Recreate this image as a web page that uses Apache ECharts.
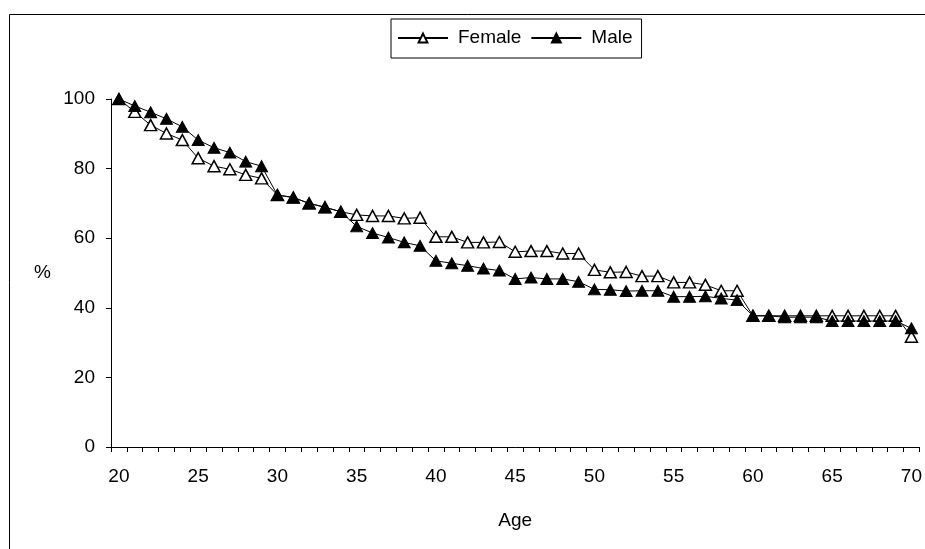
<!DOCTYPE html>
<html>
<head>
<meta charset="utf-8">
<script src="https://cdn.jsdelivr.net/npm/echarts@6/dist/echarts.min.js"></script>
<style>
html,body{margin:0;padding:0;background:#fff;}
#chart{width:925px;height:549px;}
</style>
</head>
<body>
<div id="chart"></div>
<script>
const ages = ['20','21','22','23','24','25','26','27','28','29','30','31','32','33','34','35','36','37','38','39','40','41','42','43','44','45','46','47','48','49','50','51','52','53','54','55','56','57','58','59','60','61','62','63','64','65','66','67','68','69','70'];
const female = [100, 96.3, 92.5, 90.1, 88.2, 83.0, 80.7, 79.8, 78.2, 77.2,
  72.4, 71.7, 70.0, 68.9, 67.6, 66.7, 66.4, 66.4, 65.7, 65.9,
  60.4, 60.4, 58.8, 58.8, 58.9, 56.1, 56.3, 56.3, 55.6, 55.6,
  50.9, 50.2, 50.3, 49.1, 49.1, 47.3, 47.3, 46.6, 44.9, 44.9,
  37.7, 37.7, 37.7, 37.7, 37.7, 37.7, 37.7, 37.7, 37.7, 37.7, 31.7];
const male = [100, 98.0, 96.2, 94.3, 92.0, 88.2, 86.0, 84.6, 82.0, 80.7,
  72.4, 71.7, 70.0, 68.9, 67.6, 63.4, 61.5, 60.2, 58.8, 57.8,
  53.5, 52.8, 52.1, 51.3, 50.7, 48.3, 48.7, 48.3, 48.3, 47.5,
  45.3, 45.2, 44.8, 44.9, 44.9, 43.2, 43.2, 43.3, 42.7, 42.2,
  37.7, 37.7, 37.3, 37.3, 37.3, 36.2, 36.2, 36.2, 36.2, 36.2, 34.1];
const yTicks = [0, 20, 40, 60, 80, 100];

const FONT = '"Liberation Sans", Arial, sans-serif';
const chart = echarts.init(document.getElementById('chart'), null, {renderer: 'canvas'});
chart.setOption({
  animation: false,
  backgroundColor: '#fff',
  textStyle: {fontFamily: FONT, color: '#000'},
  graphic: [{
    type: 'rect', silent: true,
    shape: {x: 9.5, y: 14.5, width: 1000, height: 1000},
    style: {fill: 'none', stroke: '#000', lineWidth: 1}
  }],
  legend: {
    left: 391, top: 19,
    padding: [9, 9, 10, 6],
    itemGap: 9,
    itemWidth: 50, itemHeight: 11,
    borderColor: '#000', borderWidth: 1,
    textStyle: {fontFamily: FONT, fontSize: 19, color: '#000', padding: [0, 0, 0, 5], lineHeight: 20},
    data: ['Female', 'Male']
  },
  grid: {left: 111, right: 5, top: 99, bottom: 102, containLabel: false},
  xAxis: {
    type: 'category',
    data: ages,
    boundaryGap: true,
    name: 'Age',
    nameLocation: 'middle',
    nameGap: 64,
    nameTextStyle: {fontFamily: FONT, fontSize: 19, color: '#000'},
    axisLine: {lineStyle: {color: '#000', width: 1}},
    axisTick: {show: true, interval: 0, alignWithLabel: false, length: 5, lineStyle: {color: '#000'}},
    axisLabel: {interval: 4, margin: 20, fontFamily: FONT, fontSize: 19, color: '#000'},
    splitLine: {show: false}
  },
  yAxis: {
    type: 'value',
    min: yTicks[0], max: yTicks[yTicks.length - 1], interval: 20,
    name: '%',
    nameLocation: 'middle',
    nameRotate: 0,
    nameGap: 60,
    nameTextStyle: {fontFamily: FONT, fontSize: 19, color: '#000'},
    axisLine: {show: true, lineStyle: {color: '#000', width: 1}},
    axisTick: {show: true, length: 5, lineStyle: {color: '#000'}},
    axisLabel: {margin: 16, fontFamily: FONT, fontSize: 19, color: '#000'},
    splitLine: {show: false}
  },
  series: [
    {
      name: 'Female', type: 'line', data: female,
      symbol: 'triangle', symbolSize: [12, 11], showAllSymbol: true,
      lineStyle: {color: '#000', width: 1},
      itemStyle: {color: '#fff', borderColor: '#000', borderWidth: 1.5},
      z: 2
    },
    {
      name: 'Male', type: 'line', data: male,
      symbol: 'triangle', symbolSize: [12, 11], showAllSymbol: true,
      lineStyle: {color: '#000', width: 1},
      itemStyle: {color: '#000', borderColor: '#000', borderWidth: 1},
      z: 3
    }
  ]
});
</script>
</body>
</html>
